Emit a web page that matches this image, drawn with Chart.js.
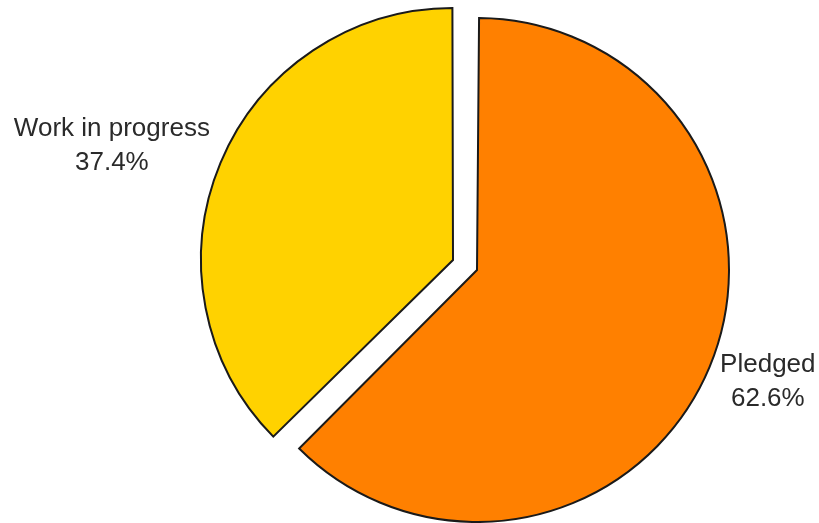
<!DOCTYPE html>
<html>
<head>
<meta charset="utf-8">
<script src="https://cdn.jsdelivr.net/npm/chart.js@4/dist/chart.umd.min.js"></script>
<style>
html,body{margin:0;padding:0;background:#fff;}
#wrap{width:819px;height:523px;}
</style>
</head>
<body>
<div id="wrap"><canvas id="c" width="819" height="523"></canvas></div>
<script>
const categories = ["Pledged", "Work in progress"];
const values = [62.6, 37.4];
const percentLabels = ["62.6%", "37.4%"];
const colors = ["#FF8000", "#FFD200"];

// keep every exploded slice at the same radius (Chart.js enlarges offset arcs)
const radiusFix = {
  id: 'radiusFix',
  beforeDatasetsDraw(chart) {
    const meta = chart.getDatasetMeta(0);
    const base = meta.controller.outerRadius;
    meta.data.forEach(arc => {
      const off = (arc.options.offset || 0) / 4;
      const fix = 1 - Math.sin(Math.min(Math.PI, arc.circumference || 0));
      arc.outerRadius = base - off * fix;
    });
  }
};

const labelPlugin = {
  id: 'pieLabels',
  afterDatasetsDraw(chart) {
    const ctx = chart.ctx;
    const meta = chart.getDatasetMeta(0);
    const base = meta.controller.outerRadius;
    ctx.save();
    ctx.font = '26px "Liberation Sans", Arial, sans-serif';
    ctx.fillStyle = '#2a2a2a';
    ctx.textBaseline = 'alphabetic';
    meta.data.forEach((arc, i) => {
      const p = arc.getProps(['x','y','startAngle','endAngle'], true);
      const mid = (p.startAngle + p.endAngle) / 2;
      const dx = Math.cos(mid), dy = Math.sin(mid);
      const r = base + 24.5;
      const ax = p.x + dx * r;
      const ay = p.y + dy * r + (dy > 0 ? 8.5 : -14.5);
      const lines = [categories[i], percentLabels[i]];
      const w = Math.max(...lines.map(l => ctx.measureText(l).width));
      const cx = dx < 0 ? ax - w / 2 : ax + w / 2;
      ctx.textAlign = 'center';
      const lh = 34;
      const base0 = ay - lh / 2 + 9;
      lines.forEach((l, k) => ctx.fillText(l, cx, base0 + k * lh));
    });
    ctx.restore();
  }
};

new Chart(document.getElementById('c'), {
  type: 'pie',
  data: {
    labels: categories,
    datasets: [{
      data: values,
      backgroundColor: colors,
      borderColor: '#1a1a1a',
      borderWidth: 2,
      borderJoinStyle: 'miter',
      offset: 52,
      hoverOffset: 0
    }]
  },
  options: {
    responsive: false,
    animation: false,
    radius: 252,
    layout: { padding: { left: 111, right: 0, top: 7, bottom: 0 } },
    plugins: { legend: { display: false }, tooltip: { enabled: false } },
    events: []
  },
  plugins: [radiusFix, labelPlugin]
});
</script>
</body>
</html>
